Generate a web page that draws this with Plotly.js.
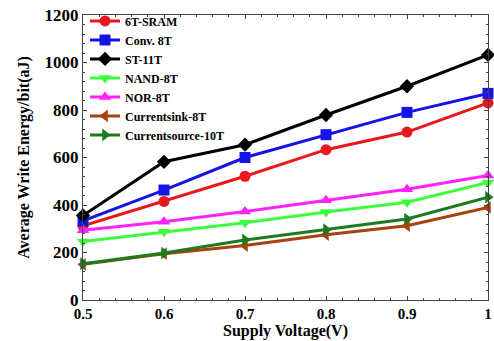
<!DOCTYPE html>
<html><head><meta charset="utf-8">
<script src="https://cdn.plot.ly/plotly-3.0.1.min.js"></script>
<style>html,body{margin:0;padding:0;background:#fff}#c{width:494px;height:341px}</style>
</head><body><div id="c"></div>
<script>
const voltage = [0.5, 0.6, 0.7, 0.8, 0.9, 1.0];
const names = ["6T-SRAM", "Conv. 8T", "ST-11T", "NAND-8T", "NOR-8T", "Currentsink-8T", "Currentsource-10T"];
const sram6T = [312, 415, 521, 633, 707, 830];
const conv8T = [333, 463, 600, 696, 790, 870];
const st11T = [356, 582, 654, 779, 900, 1032];
const nand8T = [246, 287, 325, 371, 412, 495];
const nor8T = [294, 329, 373, 420, 466, 524];
const currentsink8T = [150, 195, 229, 275, 313, 390];
const currentsource10T = [153, 198, 253, 296, 341, 433];
const series = [sram6T, conv8T, st11T, nand8T, nor8T, currentsink8T, currentsource10T];
const colors = ["#e8181c", "#1414e6", "#000000", "#3cff3c", "#ff22ff", "#a8420c", "#1e7a1e"];
const symbols = ["circle", "square", "diamond", "triangle-down", "triangle-up", "triangle-left", "triangle-right"];
const xTicks = [0.5, 0.6, 0.7, 0.8, 0.9, 1.0];
const xTickText = ["0.5", "0.6", "0.7", "0.8", "0.9", "1"];
const yTicks = [0, 200, 400, 600, 800, 1000, 1200];

const traces = series.map((s, i) => ({
  x: voltage, y: s, name: names[i], type: "scatter", mode: "lines+markers",
  line: {color: colors[i], width: 3},
  marker: {color: colors[i], symbol: symbols[i], size: 11},
  cliponaxis: false
}));

const ff = "Liberation Serif, Times New Roman, serif";
const layout = {
  width: 494, height: 341,
  margin: {l: 83, r: 6, t: 13, b: 41},
  paper_bgcolor: "#fff", plot_bgcolor: "#fff",
  showlegend: true,
  legend: {x: 0.005, y: 1.03, xanchor: "left", yanchor: "top", bgcolor: "rgba(0,0,0,0)",
    font: {family: ff, size: 12, color: "#000", weight: "bold"}, tracegroupgap: 0, itemwidth: 30},
  xaxis: {range: [0.5, 1.0], tickvals: xTicks, ticktext: xTickText, ticks: "inside", ticklen: 4,
    ticklabeloverflow: "allow",
    showline: true, linecolor: "#444", linewidth: 1, mirror: "ticks", showgrid: false, zeroline: false,
    minor: {ticks: "inside", ticklen: 2, dtick: 0.02},
    tickfont: {family: ff, size: 15, color: "#000", weight: "bold"},
    title: {text: "Supply Voltage(V)", font: {family: ff, size: 16, color: "#000", weight: "bold"}, standoff: 2}},
  yaxis: {range: [0, 1200], tickvals: yTicks, ticks: "inside", ticklen: 4,
    showline: true, linecolor: "#444", linewidth: 1, mirror: "ticks", showgrid: false, zeroline: false,
    minor: {ticks: "inside", ticklen: 2, dtick: 40},
    tickfont: {family: ff, size: 17, color: "#000", weight: "bold"},
    title: {text: "Average Write Energy/bit(aJ)", font: {family: ff, size: 16, color: "#000", weight: "bold"}, standoff: 10}}
};
Plotly.newPlot("c", traces, layout, {displayModeBar: false});
</script></body></html>
